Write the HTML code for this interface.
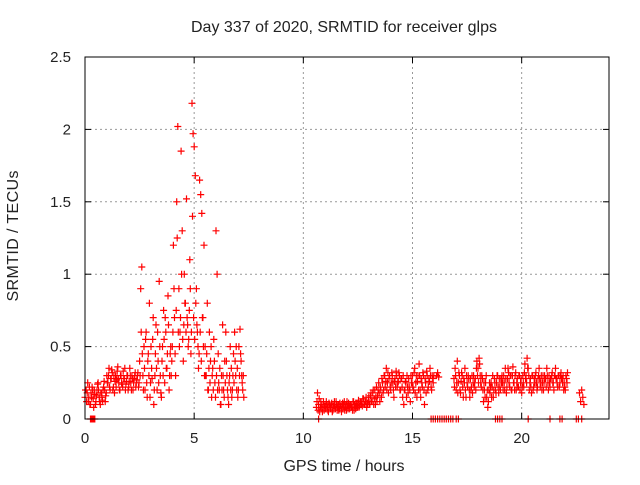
<!DOCTYPE html>
<html><head><meta charset="utf-8"><style>
body{margin:0;background:#fff}
text{font-family:"Liberation Sans",sans-serif;font-size:15px;fill:#222}
.ttl{font-size:16px}
</style></head><body>
<svg id="chart" width="640" height="480" xmlns="http://www.w3.org/2000/svg">
<rect width="640" height="480" fill="#fff"/>
<g id="grid"></g>
<g id="marks"></g>
<g id="axes"></g>
<text class="ttl" x="344" y="32" text-anchor="middle" textLength="306">Day 337 of 2020, SRMTID for receiver glps</text>
<text class="ttl" x="344" y="471" text-anchor="middle" textLength="121">GPS time / hours</text>
<text class="ttl" x="18" y="236" text-anchor="middle" transform="rotate(-90 18 236)" textLength="131">SRMTID / TECUs</text>
</svg>
<script>
const xTicks=[0,5,10,15,20];
const yTicks=[0,0.5,1,1.5,2,2.5];
const yTickLabels=["0","0.5","1","1.5","2","2.5"];
const seg1Start=0.0, seg1Vals=[0.15,0.2,0.18,0.12,0.22,0.1,0.15,0.2,0.08,0.17,0.12,0.2,0.25,0.15,0.1,0.18,0.13,0.22,0.2,0.16,
0.3,0.25,0.35,0.2,0.28,0.32,0.22,0.18,0.3,0.27,0.36,0.25,0.2,0.3,0.24,0.33,0.28,0.2,0.26,0.3,0.22,0.35,0.25,0.3,0.2,0.28,0.32,0.25,0.3,0.22,
0.4,0.9,1.05,0.3,0.5,0.2,0.6,0.15,0.45,0.8,0.25,0.35,0.55,0.1,0.3,0.65,0.2,0.4,0.95,0.3,0.15,0.5,0.75,0.25,0.6,0.35,0.85,0.2,0.45,0.3,
0.5,1.2,0.7,0.3,1.5,2.02,0.9,0.6,1.85,1.3,0.4,1.0,0.8,1.52,0.65,0.55,1.1,0.45,2.18,1.97,1.88,1.68,0.9,0.6,0.35,1.65,1.55,1.42,0.7,1.2,
0.5,0.3,0.8,0.2,0.6,0.4,0.15,0.35,0.55,0.25,1.3,1.0,0.45,0.2,0.1,0.3,0.65,0.2,0.4,0.6,0.3,0.15,0.25,0.5,0.35,0.2,0.45,0.6,0.3,0.2,0.15,0.5,0.62,0.4,0.25,0.3];
const seg1bVals=[0.2,0.12,0.25,0.15,0.1,0.18,0.22,0.14,0.2,0.1,0.16,0.24,0.2,0.12,0.18,0.15,0.2,0.26,0.12,0.18,
0.25,0.3,0.22,0.28,0.34,0.2,0.3,0.26,0.22,0.33,0.28,0.2,0.3,0.25,0.22,0.28,0.35,0.24,0.3,0.2,0.26,0.3,0.2,0.28,0.25,0.3,0.22,0.27,0.32,0.25,
0.3,0.6,0.45,0.2,0.35,0.55,0.25,0.4,0.3,0.15,0.5,0.28,0.7,0.2,0.45,0.35,0.6,0.25,0.5,0.18,0.4,0.3,0.55,0.7,0.35,0.45,0.65,0.3,0.5,0.4,
0.6,0.9,0.45,0.75,1.25,0.6,0.5,0.7,1.0,0.55,0.65,0.8,0.6,0.7,0.5,0.75,0.9,0.6,1.4,0.7,0.55,0.8,0.65,0.5,0.45,0.6,0.4,0.7,0.5,0.3,
0.3,0.45,0.2,0.35,0.25,0.5,0.3,0.2,0.4,0.15,0.3,0.2,0.25,0.35,0.1,0.2,0.3,0.15,0.25,0.4,0.2,0.1,0.3,0.2,0.15,0.3,0.25,0.4,0.5,0.35,0.2,0.3,0.45,0.3,0.2,0.15];
const seg2Start=10.6, seg2Vals=[0.08,0.18,0.1,0.05,0.12,0.07,0.1,0.06,0.09,0.12,0.08,0.05,0.1,0.07,0.11,0.06,0.09,0.08,0.12,0.06,0.1,0.07,0.09,0.05,0.11,0.08,0.06,0.1,0.12,0.07,0.09,0.1,0.08,0.06,0.12,0.1,0.07,0.09,0.11,0.08,0.1,0.12,0.09,0.14,0.1,0.12,0.08,0.1,
0.15,0.1,0.18,0.12,0.2,0.14,0.1,0.22,0.16,0.25,0.12,0.2,0.28,0.18,0.3,0.22,0.35,0.25,0.18,0.3,0.2,0.32,0.25,0.15,0.28,0.33,0.22,0.26,0.3,0.2,0.28,0.15,0.1,0.2,0.25,0.3,0.18,0.22,0.12,0.25,
0.3,0.2,0.35,0.25,0.15,0.3,0.38,0.2,0.28,0.22,0.3,0.1,0.25,0.33,0.2,0.28,0.35,0.22,0.3,0.25];
const seg2bVals=[0.12,0.06,0.14,0.08,0.1,0.05,0.12,0.09,0.07,0.1,0.06,0.11,0.08,0.1,0.05,0.09,0.12,0.07,0.1,0.08,0.06,0.11,0.09,0.07,0.1,0.12,0.08,0.06,0.09,0.11,0.07,0.1,0.08,0.12,0.06,0.09,0.11,0.08,0.13,0.09,0.12,0.1,0.14,0.1,0.12,0.15,0.11,0.13,
0.1,0.16,0.12,0.18,0.1,0.2,0.15,0.12,0.2,0.18,0.22,0.15,0.25,0.2,0.3,0.26,0.2,0.32,0.28,0.22,0.25,0.3,0.2,0.26,0.22,0.3,0.25,0.32,0.2,0.28,0.22,0.3,0.2,0.26,0.15,0.22,0.28,0.2,0.3,0.25,
0.22,0.32,0.18,0.3,0.26,0.2,0.3,0.15,0.25,0.32,0.2,0.28,0.18,0.3,0.22,0.26,0.3,0.2,0.28,0.3];
const seg3aTimes=[16.1,16.15,16.2];
const seg3aVals=[0.3,0.32,0.29];
const seg3Start=16.9, seg3Vals=[0.28,0.35,0.2,0.4,0.25,0.3,0.18,0.32,0.22,0.28,0.35,0.15,0.25,0.3,0.2,0.28,0.22,0.18,0.3,0.25,0.2,0.4,0.35,0.42,0.3,0.22,0.28,0.12,0.2,0.25,0.15,0.08,0.2,0.18,0.25,0.22,0.15,0.28,0.2,0.25,0.3,0.18,0.22,0.28,
0.3,0.2,0.25,0.35,0.18,0.28,0.32,0.22,0.3,0.2,0.36,0.25,0.3,0.2,0.28,0.22,0.3,0.25,0.18,0.3,0.22,0.38,0.3,0.42,0.35,0.2,0.28,0.18,0.3,0.22,0.25,0.32,0.2,0.28,0.35,0.22,0.3,0.25,0.2,0.3,0.28,0.35,0.25,0.3,0.22,0.28,0.32,0.25,0.3,0.35,0.28,0.22,0.3,0.25,0.32,0.28,0.3,0.25,0.2,0.28,0.32];
const seg3bVals=[0.22,0.3,0.25,0.18,0.32,0.2,0.26,0.3,0.15,0.25,0.2,0.3,0.22,0.28,0.15,0.2,0.3,0.25,0.22,0.28,0.35,0.3,0.25,0.38,0.25,0.3,0.2,0.25,0.15,0.3,0.2,0.12,0.25,0.22,0.15,0.3,0.2,0.25,0.18,0.3,0.22,0.28,0.2,0.25,
0.25,0.3,0.2,0.28,0.22,0.35,0.25,0.3,0.2,0.3,0.25,0.2,0.32,0.25,0.22,0.3,0.2,0.28,0.22,0.25,0.32,0.28,0.25,0.35,0.3,0.25,0.22,0.3,0.2,0.28,0.3,0.25,0.22,0.3,0.28,0.25,0.2,0.3,0.25,0.28,0.22,0.3,0.2,0.25,0.28,0.3,0.25,0.2,0.3,0.28,0.25,0.3,0.22,0.3,0.28,0.25,0.2,0.22,0.3,0.25];
const seg4Times=[22.65,22.7,22.75,22.8,22.85];
const seg4Vals=[0.18,0.12,0.2,0.15,0.1];
const zeroTimes=[0.25,0.3,0.35,0.4,0.45,10.7,15.85,15.95,16.05,16.15,16.25,16.35,16.45,16.55,16.65,16.75,16.85,17.0,17.1,18.8,18.9,19.0,19.1,20.3,21.3,21.75,21.85,22.5,22.6,22.75];

const X0=85,X1=609,Y0=419,Y1=57,XMAX=24,YMAX=2.5;
const xs=v=>X0+(X1-X0)*v/XMAX, ys=v=>Y0-(Y0-Y1)*v/YMAX;
const NS="http://www.w3.org/2000/svg";
const G=document.getElementById('grid'),M=document.getElementById('marks'),A=document.getElementById('axes');
function mk(t,a,p){const e=document.createElementNS(NS,t);for(const k in a)e.setAttribute(k,a[k]);p.appendChild(e);return e;}
xTicks.forEach(t=>{const x=xs(t);
 if(t>0){const l=mk('line',{x1:x,y1:Y0,x2:x,y2:Y1,stroke:'#999','stroke-dasharray':'2,3'},G);
 
 }
 mk('line',{x1:x,y1:Y0,x2:x,y2:Y0-6,stroke:'#000'},A);mk('line',{x1:x,y1:Y1,x2:x,y2:Y1+6,stroke:'#000'},A);
 const tx=mk('text',{x:x,y:443,'text-anchor':'middle'},A);tx.textContent=String(t);
 
 });
yTicks.forEach((t,i)=>{const y=ys(t);
 if(t>0&&t<YMAX){const l=mk('line',{x1:X0,y1:y,x2:X1,y2:y,stroke:'#999','stroke-dasharray':'2,3'},G);
 
 }
 mk('line',{x1:X0,y1:y,x2:X0+6,y2:y,stroke:'#000'},A);mk('line',{x1:X1,y1:y,x2:X1-6,y2:y,stroke:'#000'},A);
 const tx=mk('text',{x:71,y:y+5,'text-anchor':'end'},A);tx.textContent=yTickLabels[i];
 
 });
mk('rect',{x:X0,y:Y1,width:X1-X0,height:Y0-Y1,fill:'none',stroke:'#000'},A);
let d='';
function plus(t,v){const x=xs(t),y=ys(v);d+=`M${(x-3.5).toFixed(1)} ${y.toFixed(1)}h7M${x.toFixed(1)} ${(y-3.5).toFixed(1)}v7`;}
seg1Vals.forEach((v,i)=>plus(seg1Start+i*0.05,v));
seg1bVals.forEach((v,i)=>plus(seg1Start+0.025+i*0.05,v));
seg2Vals.forEach((v,i)=>plus(seg2Start+i*0.05,v));
seg2bVals.forEach((v,i)=>plus(seg2Start+0.025+i*0.05,v));
seg3aVals.forEach((v,i)=>plus(seg3aTimes[i],v));
seg3Vals.forEach((v,i)=>plus(seg3Start+i*0.05,v));
seg3bVals.forEach((v,i)=>plus(seg3Start+0.025+i*0.05,v));
seg4Vals.forEach((v,i)=>plus(seg4Times[i],v));
zeroTimes.forEach(t=>plus(t,0));
const p=mk('path',{d:d,stroke:'#f00','stroke-width':1.2,fill:'none'},M);


</script>
</body></html>
